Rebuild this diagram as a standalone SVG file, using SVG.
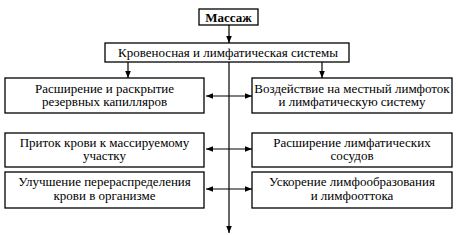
<svg xmlns="http://www.w3.org/2000/svg" width="458" height="235" viewBox="0 0 458 235">
<style>
.box{fill:#fff;stroke:#000;stroke-width:1.3}
text{font-family:'Liberation Serif','DejaVu Serif',serif;font-size:13px;fill:#000;text-anchor:middle}
.b{font-weight:bold}
.c{stroke:#000;stroke-width:1.2;fill:none}
</style>
<defs>
<marker id="ah" viewBox="0 0 10 10" refX="10" refY="5" markerWidth="7" markerHeight="7" markerUnits="userSpaceOnUse" orient="auto-start-reverse">
<path d="M0,1 L10,5 L0,9 Z" fill="#000"/>
</marker>
</defs>
<g id="connectors">
<line class="c" x1="229" y1="25" x2="229" y2="43" marker-end="url(#ah)"/>
<line class="c" x1="229" y1="62" x2="229" y2="233" marker-end="url(#ah)"/>
<line class="c" x1="128" y1="62" x2="128" y2="78" marker-end="url(#ah)"/>
<line class="c" x1="322" y1="62" x2="322" y2="78" marker-end="url(#ah)"/>
<line class="c" x1="206" y1="96" x2="252" y2="96" marker-start="url(#ah)" marker-end="url(#ah)"/>
<line class="c" x1="206" y1="149" x2="252" y2="149" marker-start="url(#ah)" marker-end="url(#ah)"/>
<line class="c" x1="206" y1="189" x2="252" y2="189" marker-start="url(#ah)" marker-end="url(#ah)"/>
</g>
<g id="massage">
<rect class="box" x="199" y="9" width="59" height="16"/>
<text class="b" x="228.5" y="21.5">Массаж</text>
</g>
<g id="systems">
<rect class="box" x="105" y="43" width="244" height="19"/>
<text x="228" y="57">Кровеносная и лимфатическая системы</text>
</g>
<g id="n1">
<rect class="box" x="5" y="78" width="199" height="35"/>
<text x="104.5" y="92.5">Расширение и раскрытие</text>
<text x="104.5" y="106">резервных капилляров</text>
</g>
<g id="n2">
<rect class="box" x="252" y="78" width="200" height="35"/>
<text x="352" y="92.5">Воздействие на местный лимфоток</text>
<text x="352" y="106">и лимфатическую систему</text>
</g>
<g id="n3">
<rect class="box" x="5" y="133" width="199" height="34"/>
<text x="104.5" y="146.5">Приток крови к массируемому</text>
<text x="104.5" y="160">участку</text>
</g>
<g id="n4">
<rect class="box" x="252" y="133" width="200" height="34"/>
<text x="352" y="146.5">Расширение лимфатических</text>
<text x="352" y="160">сосудов</text>
</g>
<g id="n5">
<rect class="box" x="5" y="172" width="199" height="36"/>
<text x="104.5" y="186">Улучшение перераспределения</text>
<text x="104.5" y="200">крови в организме</text>
</g>
<g id="n6">
<rect class="box" x="252" y="172" width="200" height="36"/>
<text x="352" y="186">Ускорение лимфообразования</text>
<text x="352" y="200">и лимфооттока</text>
</g>
</svg>
